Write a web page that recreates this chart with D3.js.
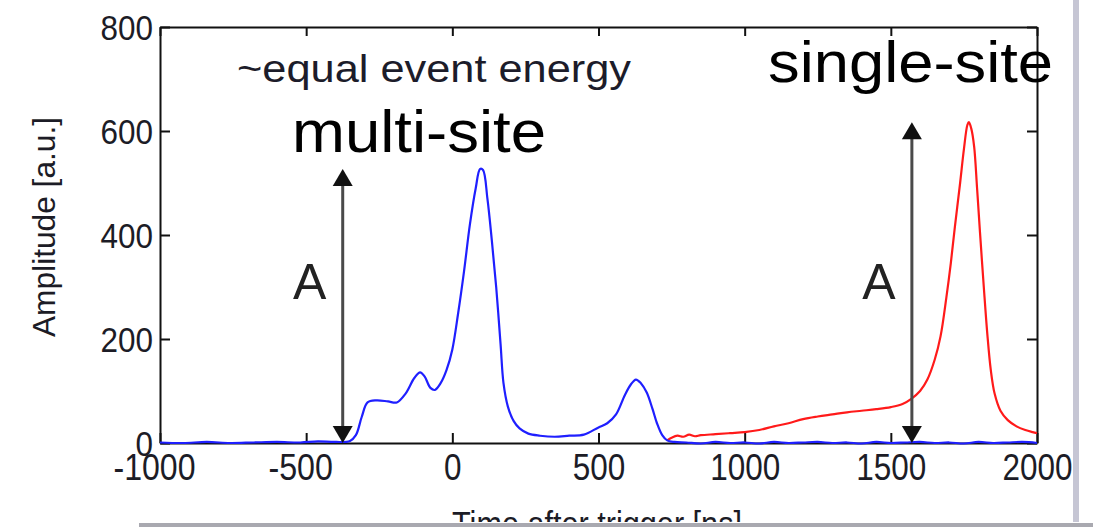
<!DOCTYPE html>
<html>
<head>
<meta charset="utf-8">
<script src="https://cdn.jsdelivr.net/npm/d3@7"></script>
<style>
  html, body { margin: 0; padding: 0; background: #fff; overflow: hidden; }
  text { font-family: "Liberation Sans", Arial, sans-serif; }
</style>
</head>
<body>
<svg id="chart" width="1093" height="530"></svg>
<script>
// Pulse shapes of two events with about the same energy (time in ns, amplitude in a.u.)
const multiSiteTime = [-1000,-920,-840,-760,-680,-600,-520,-460,-400,-350,-330,-310,-290,-260,-220,-190,-160,-130,-110,-95,-75,-60,-40,-20,0,20,40,60,80,95,105,120,135,150,165,175,190,210,230,260,300,350,400,450,500,530,560,590,610,628,645,665,685,700,718,735,760,800,850,900,950,1000,1050,1100,1150,1200,1250,1300,1350,1400,1450,1500,1550,1600,1650,1700,1750,1800,1850,1900,1950,2000];
const multiSiteAmp  = [1,0,2,0,1,2,1,3,2,4,15,50,78,82,80,78,95,125,136,128,106,102,115,140,180,250,330,420,490,527,525,470,390,300,190,115,70,42,28,18,14,12,14,16,30,38,55,92,112,122,115,97,65,38,15,5,2,1,-1,2,0,1,-1,2,0,1,2,0,1,-1,2,0,1,2,0,1,-1,2,0,1,2,0];

const singleSiteTime = [735,750,770,790,810,830,850,900,950,1000,1050,1100,1150,1200,1250,1300,1350,1400,1450,1500,1540,1570,1600,1625,1650,1670,1690,1705,1720,1737,1750,1762,1767,1775,1785,1795,1805,1818,1830,1842,1855,1875,1900,1930,1960,1985,2000];
const singleSiteAmp  = [5,10,14,12,16,13,15,17,19,21,25,32,38,46,51,55,59,62,65,69,75,85,100,122,160,205,280,345,420,500,565,612,617,605,570,490,405,300,210,140,95,62,44,32,25,21,19];

const xTicks = [-1000,-500,0,500,1000,1500,2000];
const yTicks = [0,200,400,600,800];

// Pulse-height arrows ("A") placed in front of each pulse
const arrowTimes = [-375, 1572];

const svg = d3.select("#chart");
const x = d3.scaleLinear().domain([-1000, 2000]).range([160, 1037]);
const y = d3.scaleLinear().domain([0, 800]).range([443, 27]);

const digitW = 17.5, minusW = 12;
const plain = d => String(d);

// Axes with inward ticks on all four sides
const gBottom = svg.append("g").attr("transform", `translate(0,${y(0)})`)
  .call(d3.axisBottom(x).tickValues(xTicks).tickFormat(plain).tickSize(-10).tickSizeOuter(0).tickPadding(0));
const gTop = svg.append("g").attr("transform", `translate(0,${y(800)})`)
  .call(d3.axisTop(x).tickValues(xTicks).tickSize(-9).tickSizeOuter(0).tickFormat(""));
const gLeft = svg.append("g").attr("transform", `translate(${x(-1000)},0)`)
  .call(d3.axisLeft(y).tickValues(yTicks).tickFormat(plain).tickSize(-10).tickSizeOuter(0).tickPadding(0));
const gRight = svg.append("g").attr("transform", `translate(${x(2000)},0)`)
  .call(d3.axisRight(y).tickValues(yTicks).tickSize(-10).tickSizeOuter(0).tickFormat(""));

[gBottom, gTop, gLeft, gRight].forEach(g => {
  g.attr("font-family", null).attr("font-size", null);
  g.select(".domain").attr("stroke", "#111").attr("stroke-width", 2);
  g.selectAll(".tick line").attr("stroke", "#111").attr("stroke-width", 2);
});

// x tick labels: digits centred on the tick, minus sign hanging to the left
gBottom.selectAll(".tick text").each(function(d) {
  const s = String(d), neg = d < 0;
  const n = s.replace("-", "").length;
  d3.select(this)
    .attr("text-anchor", "start")
    .attr("x", -n * digitW / 2 - (neg ? minusW : 0))
    .attr("y", 37).attr("dy", null)
    .attr("textLength", n * digitW + (neg ? minusW : 0))
    .attr("lengthAdjust", "spacingAndGlyphs")
    .attr("font-size", 36).attr("fill", "#1c1c26");
});
gLeft.selectAll(".tick text").each(function(d) {
  const n = String(d).length;
  d3.select(this)
    .attr("text-anchor", "end")
    .attr("x", -7).attr("dy", null).attr("y", 12.5)
    .attr("textLength", n * digitW)
    .attr("lengthAdjust", "spacingAndGlyphs")
    .attr("font-size", 35).attr("fill", "#1c1c26");
});

// Axis titles
svg.append("text")
  .attr("transform", `translate(55,227) rotate(-90)`)
  .attr("text-anchor", "middle")
  .attr("font-size", 32).attr("fill", "#1c1c26")
  .attr("textLength", 220).attr("lengthAdjust", "spacingAndGlyphs")
  .text("Amplitude [a.u.]");
svg.append("text")
  .attr("x", 597).attr("y", 536)
  .attr("text-anchor", "middle")
  .attr("font-size", 35).attr("fill", "#1c1c26")
  .attr("textLength", 290).attr("lengthAdjust", "spacingAndGlyphs")
  .text("Time after trigger [ns]");

// Pulse traces
const line = d3.line().x(d => x(d[0])).y(d => y(d[1])).curve(d3.curveCatmullRom.alpha(0.5));
const single = d3.zip(singleSiteTime, singleSiteAmp);
const multi = d3.zip(multiSiteTime, multiSiteAmp);

svg.append("path").datum(single)
  .attr("d", line).attr("fill", "none")
  .attr("stroke", "#ff1a1a").attr("stroke-width", 2.2);
svg.append("path").datum(multi)
  .attr("d", line).attr("fill", "none")
  .attr("stroke", "#1f1fff").attr("stroke-width", 2.2);

// Double-headed arrows spanning each pulse height
const peaks = [d3.max(multiSiteAmp), d3.max(singleSiteAmp)];
arrowTimes.forEach((t, i) => {
  const ax = x(t), yTop = y(peaks[i]), yBot = y(0);
  const hw = 10, hh = 17;
  svg.append("line")
    .attr("x1", ax).attr("x2", ax)
    .attr("y1", yTop + hh - 2).attr("y2", yBot - hh + 2)
    .attr("stroke", "#4a4a4a").attr("stroke-width", 3);
  svg.append("path")
    .attr("d", `M${ax},${yTop} L${ax - hw},${yTop + hh} L${ax + hw},${yTop + hh} Z`)
    .attr("fill", "#111");
  svg.append("path")
    .attr("d", `M${ax},${yBot} L${ax - hw},${yBot - hh} L${ax + hw},${yBot - hh} Z`)
    .attr("fill", "#111");
  svg.append("text")
    .attr("x", ax - 33).attr("y", 299)
    .attr("text-anchor", "middle")
    .attr("font-family", "Lato, 'Open Sans', sans-serif")
    .attr("font-weight", 300)
    .attr("font-size", 50).attr("fill", "#222")
    .text("A");
});

// Annotations
svg.append("text")
  .attr("x", 237).attr("y", 82)
  .attr("font-size", 38).attr("fill", "#1c1c2a")
  .attr("textLength", 394).attr("lengthAdjust", "spacingAndGlyphs")
  .text("~equal event energy");
svg.append("text")
  .attr("x", 292).attr("y", 152)
  .attr("font-size", 60).attr("fill", "#000")
  .attr("textLength", 254).attr("lengthAdjust", "spacingAndGlyphs")
  .text("multi-site");
svg.append("text")
  .attr("x", 768).attr("y", 82)
  .attr("font-size", 57).attr("fill", "#000")
  .attr("textLength", 285).attr("lengthAdjust", "spacingAndGlyphs")
  .text("single-site");

// Page edges around the figure
svg.append("rect").attr("x", 1073).attr("y", 0).attr("width", 6).attr("height", 522).attr("fill", "#c6c6d4");
svg.append("rect").attr("x", 139).attr("y", 522).attr("width", 954).attr("height", 8).attr("fill", "#fff");
svg.append("rect").attr("x", 139).attr("y", 523).attr("width", 954).attr("height", 4).attr("fill", "#a9a9b0");
</script>
</body>
</html>
